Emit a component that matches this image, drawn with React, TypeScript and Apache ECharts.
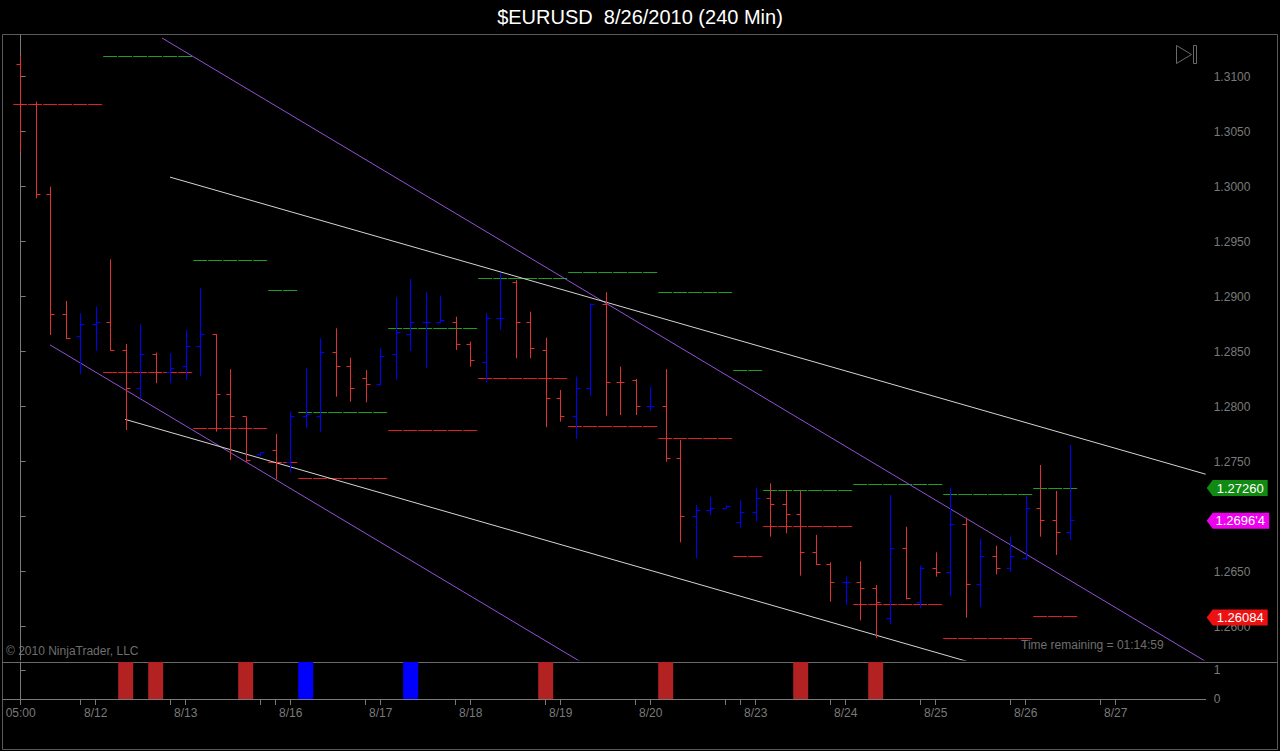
import React, { useEffect, useRef } from 'react';
import * as echarts from 'echarts';

// ---- OHLC data (4-hour bars, index 0 = first bar) ----
const opens = [1.31106, 1.30743, 1.29925, 1.28840, 1.28636, 1.28749, 1.28773, 1.28515, 1.28173, 1.28476,
  1.28303, 1.28358, 1.28552, 1.28661, 1.28113, 1.27909, 1.27560, 1.27600, 1.27500, 1.27909,
  1.27909, 1.28491, 1.28364, 1.28258, 1.28197, 1.28470, 1.28652, 1.28767, 1.28758, 1.28767,
  1.28561, 1.28409, 1.28797, 1.29136, 1.28758, 1.28506, 1.28076, 1.27909, 1.28161, 1.28930,
  1.28227, 1.28242, 1.28000, 1.28000, 1.27536, 1.27000, 1.27055, 1.27080, 1.26940, 1.27040,
  1.27173, 1.27106, 1.27015, 1.26667, 1.26567, 1.26394, 1.26403, 1.26352, 1.26070, 1.26713,
  1.26227, 1.26536, 1.26491, 1.26924, 1.26385, 1.26636, 1.26536, 1.26627, 1.27076, 1.26970,
  1.26858];
const highs = [1.31188, 1.30773, 1.30000, 1.28961, 1.28849, 1.28909, 1.29340, 1.28570, 1.28749, 1.28491,
  1.28485, 1.28697, 1.29076, 1.28661, 1.28340, 1.27909, 1.27580, 1.27752, 1.27955, 1.28348,
  1.28622, 1.28713, 1.28445, 1.28333, 1.28531, 1.28995, 1.29161, 1.29045, 1.29009, 1.28818,
  1.28591, 1.28849, 1.29213, 1.29152, 1.28864, 1.28627, 1.28152, 1.28273, 1.28940, 1.29040,
  1.28364, 1.28252, 1.28182, 1.28340, 1.27697, 1.27106, 1.27182, 1.27106, 1.27152, 1.27264,
  1.27303, 1.27243, 1.27234, 1.26834, 1.26585, 1.26455, 1.26594, 1.26379, 1.27197, 1.26909,
  1.26555, 1.26676, 1.27264, 1.26991, 1.26797, 1.26736, 1.26818, 1.27191, 1.27470, 1.27234,
  1.27652];
const lows = [1.30318, 1.29895, 1.28652, 1.28615, 1.28297, 1.28509, 1.28509, 1.27788, 1.28076, 1.28213,
  1.28212, 1.28243, 1.28279, 1.27773, 1.27515, 1.27500, 1.27550, 1.27340, 1.27400, 1.27803,
  1.27773, 1.28091, 1.28045, 1.28040, 1.28191, 1.28243, 1.28506, 1.28355, 1.28758, 1.28515,
  1.28364, 1.28222, 1.28697, 1.28440, 1.28440, 1.27813, 1.27864, 1.27706, 1.28100, 1.27918,
  1.27924, 1.27924, 1.27961, 1.27500, 1.26767, 1.26622, 1.27015, 1.27070, 1.26900, 1.26955,
  1.26818, 1.26849, 1.26464, 1.26561, 1.26227, 1.26197, 1.26057, 1.25897, 1.26022, 1.26249,
  1.26167, 1.26455, 1.26279, 1.26082, 1.26182, 1.26476, 1.26500, 1.26606, 1.26818, 1.26652,
  1.26788];
const closes = [1.30743, 1.29925, 1.28840, 1.28622, 1.28749, 1.28773, 1.28509, 1.28173, 1.28476, 1.28303,
  1.28349, 1.28552, 1.28661, 1.28113, 1.27909, 1.27515, 1.27575, 1.27500, 1.27909, 1.27930,
  1.28491, 1.28364, 1.28173, 1.28197, 1.28461, 1.28667, 1.28767, 1.28770, 1.28779, 1.28561,
  1.28425, 1.28804, 1.28810, 1.28758, 1.28531, 1.28076, 1.27909, 1.28161, 1.28930, 1.28227,
  1.28212, 1.28000, 1.28010, 1.27536, 1.27000, 1.27061, 1.27067, 1.27095, 1.27040, 1.27173,
  1.27106, 1.27015, 1.26667, 1.26561, 1.26394, 1.26403, 1.26348, 1.26215, 1.26713, 1.26249,
  1.26536, 1.26491, 1.26924, 1.26385, 1.26636, 1.26522, 1.26636, 1.27076, 1.26970, 1.26858,
  1.26964];

// ---- time axis ----
const majorTickIdx = [0, 5, 11, 18, 24, 30, 36, 42, 49, 55, 61, 67, 73];
const majorTickLabels = ['05:00', '8/12', '8/13', '8/16', '8/17', '8/18', '8/19', '8/20', '8/23', '8/24', '8/25', '8/26', '8/27'];
const minorTickIdx = [4, 10, 16, 17, 23, 29, 35, 41, 47, 48, 54, 60, 66, 72];

// ---- price axis ----
const priceTicks = [1.26, 1.265, 1.27, 1.275, 1.28, 1.285, 1.29, 1.295, 1.30, 1.305, 1.31];
// 1.2700 sits under the last-price flag and is not visible
const priceLabels = [1.26, 1.265, 1.275, 1.28, 1.285, 1.29, 1.295, 1.30, 1.305, 1.31];

// ---- prior session high / low lines ----
const sessStart = [-0.5, 5.5, 11.5, 16.5, 18.5, 24.5, 30.5, 36.5, 42.5, 47.5, 49.5, 55.5, 61.5, 67.5];
const sessEnd = [5.5, 11.5, 16.5, 18.5, 24.5, 30.5, 36.5, 42.5, 47.5, 49.5, 55.5, 61.5, 67.5, 70.5];
const priorHigh = [null, 1.31188, 1.29334, 1.29061, 1.27955, 1.28713, 1.29161, 1.29222, 1.29031, 1.28334, 1.27243, 1.27295, 1.27197, 1.27260];
const priorLow = [1.30743, 1.28305, 1.27804, 1.27500, 1.27340, 1.27782, 1.28258, 1.27818, 1.27713, 1.26645, 1.26906, 1.26204, 1.25895, 1.26084];

// ---- trend lines (two anchor points each: [barIndex, price]) ----
const purpleLines = [
  [[9.42, 1.31352], [79.5, 1.25643]],
  [[1.953, 1.28562], [38, 1.25626]],
];
const whiteLines = [
  [[9.953, 1.30087], [79, 1.27386]],
  [[6.953, 1.27885], [64, 1.25649]],
];

// ---- lower panel signals ----
const signalIdx = [7, 9, 15, 19, 26, 35, 43, 52, 57];
const signalDir = [-1, -1, -1, 1, 1, -1, -1, -1, -1];
const signalHeight = [1.28, 1.28, 1.28, 1.28, 1.28, 1.28, 1.28, 1.28, 1.28];

// ---- price flags on right axis ----
const flagPrices = [1.27260, 1.26964, 1.26084];
const flagTexts = ['1.27260', "1.2696'4", '1.26084'];
const flagColors = ['#118a11', '#ee00ee', '#ee1111'];

const FONT = '"Liberation Sans", Arial, Helvetica, sans-serif';
const GRAY = '#7a7a7a';
const UP = '#0000ff';
const DOWN = '#e03030';

const X_MIN = -1.18;
const X_MAX = 79;

// snap a 1px stroke onto an even device pixel (keeps thin coloured strokes crisp)
const snap = (v: number) => 2 * Math.round(v / 2) + 0.5;

export default function App() {
  const ref = useRef<HTMLDivElement>(null);

  useEffect(() => {
    if (!ref.current) return;
    const chart = echarts.init(ref.current, undefined, { renderer: 'svg' });

    const ohlcData = opens.map((o, i) => [i, o, highs[i], lows[i], closes[i]]);
    const sessData: any[] = [];
    sessStart.forEach((s, k) => {
      if (priorHigh[k] != null) sessData.push([s, sessEnd[k], priorHigh[k], 1]);
      if (priorLow[k] != null) sessData.push([s, sessEnd[k], priorLow[k], -1]);
    });
    const tickLabelMap: Record<string, string> = {};
    majorTickIdx.forEach((v, k) => { tickLabelMap[String(v)] = majorTickLabels[k]; });
    const allTicks = majorTickIdx.concat(minorTickIdx).sort((a, b) => a - b);

    const lineSeries = (pts: number[][], color: string) => ({
      type: 'line',
      xAxisIndex: 0,
      yAxisIndex: 0,
      data: pts,
      symbol: 'none',
      clip: true,
      silent: true,
      lineStyle: { color, width: 1 },
      z: 2,
    });

    const option: any = {
      animation: false,
      backgroundColor: '#000000',
      grid: [
        { left: 3, right: 74.3, top: 35, height: 625, containLabel: false },
        { left: 3, right: 74.3, top: 662, height: 37, containLabel: false },
      ],
      xAxis: [
        { type: 'value', gridIndex: 0, min: X_MIN, max: X_MAX, show: false, splitLine: { show: false } },
        {
          type: 'value', gridIndex: 1, min: X_MIN, max: X_MAX,
          axisLine: { show: true, onZero: false, lineStyle: { color: GRAY, width: 1 } },
          axisTick: { show: true, customValues: allTicks, length: 6, lineStyle: { color: GRAY } },
          axisLabel: {
            show: true, customValues: majorTickIdx, color: GRAY, fontSize: 12, fontFamily: FONT, margin: 8,
            formatter: (v: number) => tickLabelMap[String(Math.round(v))] || '',
          },
          splitLine: { show: false },
        },
      ],
      yAxis: [
        {
          type: 'value', gridIndex: 0, position: 'right', min: 1.25697, max: 1.31379,
          axisLine: { show: true, lineStyle: { color: GRAY, width: 1 } },
          axisTick: { show: true, customValues: priceTicks, length: 5, lineStyle: { color: GRAY } },
          axisLabel: {
            show: true, customValues: priceLabels, color: GRAY, fontSize: 12, fontFamily: FONT, margin: 8,
            formatter: (v: number) => v.toFixed(4),
          },
          splitLine: { show: false },
        },
        {
          type: 'value', gridIndex: 1, position: 'right', min: 0, max: 1.28,
          axisLine: { show: true, lineStyle: { color: GRAY, width: 1 } },
          axisTick: { show: true, customValues: [0, 1], length: 5, lineStyle: { color: GRAY } },
          axisLabel: {
            show: true, customValues: [0, 1], color: GRAY, fontSize: 12, fontFamily: FONT, margin: 8,
            formatter: (v: number) => String(Math.round(v)),
          },
          splitLine: { show: false },
        },
      ],
      series: [
        // prior session high/low lines
        {
          type: 'custom',
          xAxisIndex: 0, yAxisIndex: 0,
          data: sessData,
          clip: true,
          silent: true,
          z: 1,
          encode: { x: [0, 1], y: 2 },
          renderItem: (params: any, api: any) => {
            const a = api.coord([api.value(0), api.value(2)]);
            const b = api.coord([api.value(1), api.value(2)]);
            const color = api.value(3) > 0 ? '#1f9e1f' : '#e02020';
            const y = snap(a[1] - 0.5);
            return {
              type: 'line',
              shape: { x1: a[0], y1: y, x2: b[0], y2: y },
              style: { stroke: color, lineWidth: 1, lineDash: [14, 1] },
            };
          },
        },
        ...purpleLines.map((p) => lineSeries(p, '#9550d6')),
        ...whiteLines.map((p) => lineSeries(p, '#d4d4d4')),
        // OHLC bars
        {
          type: 'custom',
          xAxisIndex: 0, yAxisIndex: 0,
          data: ohlcData,
          clip: true,
          silent: true,
          z: 3,
          encode: { x: 0, y: [1, 2, 3, 4] },
          renderItem: (params: any, api: any) => {
            const i = api.value(0);
            const o = api.value(1), h = api.value(2), l = api.value(3), c = api.value(4);
            const ph = api.coord([i, h]);
            const pl = api.coord([i, l]);
            const po = api.coord([i, o]);
            const pc = api.coord([i, c]);
            const color = c >= o ? UP : DOWN;
            const x = snap(ph[0] - 0.5);
            const yo = snap(po[1] - 0.5);
            const yc = snap(pc[1] - 0.5);
            const st = { stroke: color, lineWidth: 1 };
            return {
              type: 'group',
              children: [
                { type: 'line', shape: { x1: x, y1: ph[1], x2: x, y2: Math.max(pl[1], ph[1] + 1) }, style: st },
                { type: 'line', shape: { x1: x - 4, y1: yo, x2: x, y2: yo }, style: st },
                { type: 'line', shape: { x1: x, y1: yc, x2: x + 4, y2: yc }, style: st },
              ],
            };
          },
        },
        // price flags
        {
          type: 'custom',
          xAxisIndex: 0, yAxisIndex: 0,
          data: flagPrices.map((p, k) => [X_MAX, p, k]),
          clip: false,
          silent: true,
          z: 10,
          encode: { x: 0, y: 1 },
          renderItem: (params: any, api: any) => {
            const pt = api.coord([api.value(0), api.value(1)]);
            const k = api.value(2);
            const x = pt[0];
            const y = pt[1];
            const w = k === 1 ? 63.5 : 62;
            return {
              type: 'group',
              children: [
                {
                  type: 'polygon',
                  shape: { points: [[x + 1, y], [x + 7, y - 8], [x + w, y - 8], [x + w, y + 8], [x + 7, y + 8]] },
                  style: { fill: flagColors[k] },
                },
                {
                  type: 'text',
                  style: {
                    text: flagTexts[k], x: x + 34.5, y: y, fill: '#ffffff',
                    font: '13px ' + FONT,
                    align: 'center', verticalAlign: 'middle',
                    textAlign: 'center', textVerticalAlign: 'middle',
                  },
                },
              ],
            };
          },
        },
        // lower panel signals
        {
          type: 'custom',
          xAxisIndex: 1, yAxisIndex: 1,
          data: signalIdx.map((v, k) => [v, signalHeight[k], signalDir[k]]),
          clip: true,
          silent: true,
          encode: { x: 0, y: 1 },
          renderItem: (params: any, api: any) => {
            const i = api.value(0);
            const a = api.coord([i - 0.5, api.value(1)]);
            const b = api.coord([i + 0.5, 0]);
            return {
              type: 'rect',
              shape: { x: a[0], y: a[1], width: b[0] - a[0], height: b[1] - a[1] },
              style: { fill: api.value(2) > 0 ? '#0000ff' : '#b22222' },
            };
          },
        },
      ],
      graphic: [
        {
          type: 'rect', silent: true,
          shape: { x: 2.5, y: 34.5, width: 1275, height: 715 },
          style: { fill: 'none', stroke: '#5a5a5a', lineWidth: 1 },
        },
        {
          type: 'line', silent: true,
          shape: { x1: 2, y1: 662.5, x2: 1278, y2: 662.5 },
          style: { stroke: '#6a6a6a', lineWidth: 1 },
        },
        {
          type: 'text', silent: true, left: 'center', top: 7,
          style: { text: '$EURUSD  8/26/2010 (240 Min)', fill: '#ffffff', font: '20px ' + FONT },
        },
        {
          type: 'text', silent: true, x: 6, y: 651,
          style: { text: '\u00a9 2010 NinjaTrader, LLC', fill: '#6e6e6e', font: '12px ' + FONT, textVerticalAlign: 'middle', verticalAlign: 'middle' },
        },
        {
          type: 'text', silent: true, x: 1021, y: 645,
          style: { text: 'Time remaining = 01:14:59', fill: '#6e6e6e', font: '12px ' + FONT, textVerticalAlign: 'middle', verticalAlign: 'middle' },
        },
        {
          type: 'polygon', silent: true,
          shape: { points: [[1176.5, 45.5], [1191.5, 54.5], [1176.5, 63.5]] },
          style: { fill: 'none', stroke: '#6a6a6a', lineWidth: 1 },
        },
        {
          type: 'rect', silent: true,
          shape: { x: 1193.5, y: 45.5, width: 3, height: 18 },
          style: { fill: 'none', stroke: '#6a6a6a', lineWidth: 1 },
        },
      ],
    };

    chart.setOption(option);
    return () => { chart.dispose(); };
  }, []);

  return (
    <div style={{ position: 'fixed', left: 0, top: 0, width: 1280, height: 751, background: '#000' }}>
      <div ref={ref} style={{ width: 1280, height: 751 }} />
    </div>
  );
}
